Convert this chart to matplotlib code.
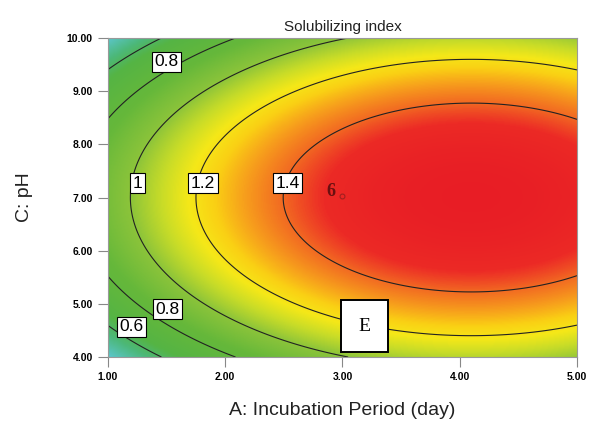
import numpy as np
import matplotlib
matplotlib.use("Agg")
import matplotlib.pyplot as plt
from matplotlib.colors import LinearSegmentedColormap, Normalize

# Quadratic response-surface model in coded factors
# (x = coded incubation period, z = coded pH)
coef_intercept = 1.493
coef_A = 0.299
coef_C = 0.0
coef_AA = -0.272
coef_CC = -0.500

A_range = [1.0, 5.0]
C_range = [4.0, 10.0]
contour_levels = [0.6, 0.8, 1.0, 1.2, 1.4]
x_ticks = [1.0, 2.0, 3.0, 4.0, 5.0]
y_ticks = [4.0, 5.0, 6.0, 7.0, 8.0, 9.0, 10.0]

# contour labels: level and where the label box sits (A, C)
label_levels = [0.8, 1.0, 1.2, 1.4, 0.6, 0.8]
label_positions = [(1.50, 9.55), (1.25, 7.27), (1.81, 7.27), (2.53, 7.27),
                   (1.20, 4.57), (1.51, 4.90)]

# design-point annotation and the "E" panel tag
point_label = "6"
point_pos = (2.90, 7.12)
tag_text = "E"
tag_pos = (3.19, 4.58)

# colour stops for the response values
color_values = [0.42, 0.55, 0.65, 0.85, 1.00, 1.10, 1.18, 1.25, 1.32, 1.40, 1.47, 1.58]
color_hex = ['#5cc6cc', '#4cb87a', '#55b444', '#66b83a', '#8cc43a', '#c8dc28',
             '#f5e818', '#fad014', '#f7a01c', '#f26a22', '#ec2a26', '#e81d25']


def response(A, C):
    x = (A - 3.0) / 2.0
    z = (C - 7.0) / 3.0
    return (coef_intercept + coef_A * x + coef_C * z
            + coef_AA * x ** 2 + coef_CC * z ** 2)


vmin, vmax = color_values[0], color_values[-1]
stops = [((v - vmin) / (vmax - vmin), c) for v, c in zip(color_values, color_hex)]
cmap = LinearSegmentedColormap.from_list("surface", stops)

A = np.linspace(A_range[0], A_range[1], 400)
C = np.linspace(C_range[0], C_range[1], 400)
AA, CC = np.meshgrid(A, C)
Z = response(AA, CC)

plt.rcParams['font.family'] = ['Liberation Sans', 'DejaVu Sans']
fig = plt.figure(figsize=(5.95, 4.43), dpi=100)
ax = fig.add_axes([0.1815, 0.1941, 0.7882, 0.7201])

ax.imshow(Z, origin='lower', extent=[A_range[0], A_range[1], C_range[0], C_range[1]],
          aspect='auto', cmap=cmap, norm=Normalize(vmin, vmax), interpolation='bilinear')
ax.contour(AA, CC, Z, levels=contour_levels, colors='#222222', linewidths=0.8)

for lev, (la, lc) in zip(label_levels, label_positions):
    ax.text(la, lc, f"{lev:g}", fontsize=12.5, color='black', ha='center',
            va='center', zorder=5,
            bbox=dict(boxstyle='square,pad=0.14', fc='white', ec='black', lw=0.8))

ax.text(point_pos[0], point_pos[1], point_label, color='#6a1010', fontsize=13,
        fontweight='bold', family='Liberation Serif', ha='center', va='center')
ax.plot(point_pos[0] + 0.1, point_pos[1] - 0.1, 'o', ms=3.5, mfc='none',
        mec='#a02020', mew=0.8)
ax.text(tag_pos[0], tag_pos[1], tag_text, fontsize=14, family='Liberation Serif',
        ha='center', va='center', zorder=6,
        bbox=dict(boxstyle='square,pad=0.9', fc='white', ec='black', lw=1.4))

ax.set_xlim(A_range)
ax.set_ylim(C_range)
ax.set_xticks(x_ticks)
ax.set_yticks(y_ticks)
ax.set_xticklabels([f"{v:.2f}" for v in x_ticks], fontsize=7.5, fontweight='bold')
ax.set_yticklabels([f"{v:.2f}" for v in y_ticks], fontsize=7.5, fontweight='bold')
ax.tick_params(direction='out', length=7, width=0.8, color='#888888', pad=4)
for s in ax.spines.values():
    s.set_color('#999999')
    s.set_linewidth(0.8)

ax.set_xlabel("A: Incubation Period (day)", fontsize=14, labelpad=14, color='#222222')
ax.set_ylabel("C: pH", fontsize=14, labelpad=24, color='#222222')
ax.set_title("Solubilizing index", fontsize=11, pad=5, color='#222222')

fig.savefig("out.png", dpi=100)
